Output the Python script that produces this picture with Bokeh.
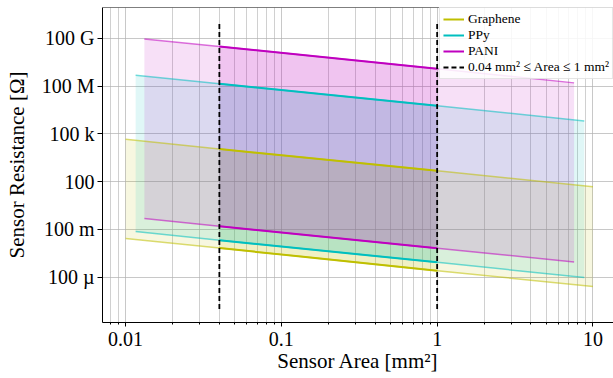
import math
from bokeh.plotting import figure
from bokeh.models import (FixedTicker, CustomJSTickFormatter, Span, Legend,
                          LegendItem, Range1d)
from bokeh.embed import file_html
from bokeh.resources import INLINE

# ---------------- data ----------------
materials = ["Graphene", "PPy", "PANI"]
colors = ["#bfbf00", "#00bfbf", "#bf00bf"]

graphene_area = [0.01, 0.04, 1.0, 10.0]
graphene_r_high = [4.5e4, 1.12e4, 4.8e2, 4.8e1]
graphene_r_low = [2.7e-2, 6.8e-3, 2.6e-4, 2.6e-5]

ppy_area = [0.0116, 0.04, 1.0, 8.8]
ppy_r_high = [4.8e8, 1.38e8, 5.75e6, 6.5e5]
ppy_r_low = [7.4e-2, 2.1e-2, 8.7e-4, 9.5e-5]

pani_area = [0.0132, 0.04, 1.0, 7.57]
pani_r_high = [9.1e10, 3.0e10, 1.2e9, 1.58e8]
pani_r_low = [4.8e-1, 1.58e-1, 6.6e-3, 9.1e-4]

range_area = [0.04, 1.0]
range_r_extent = [1e-6, 1e12]
range_label = "0.04 mm² ≤ Area ≤ 1 mm²"

x_ticks = [0.01, 0.1, 1, 10]
x_tick_labels = ["0.01", "0.1", "1", "10"]
y_ticks = [1e11, 1e8, 1e5, 1e2, 1e-1, 1e-4]
y_tick_labels = ["100 G", "100 M", "100 k", "100", "100 m", "100 µ"]

areas = [graphene_area, ppy_area, pani_area]
highs = [graphene_r_high, ppy_r_high, pani_r_high]
lows = [graphene_r_low, ppy_r_low, pani_r_low]

FONT = "Liberation Serif"

p = figure(width=613, height=378, x_axis_type="log", y_axis_type="log",
           x_range=Range1d(0.00711, 13.55), y_range=Range1d(1.445e-7, 8.5e12),
           output_backend="svg", toolbar_location=None,
           min_border_left=102, min_border_right=0, min_border_top=7,
           min_border_bottom=56)
p.outline_line_color = None
p.background_fill_color = "white"
p.border_fill_color = "white"

minor_x = [m * 10.0 ** e for e in range(-3, 1) for m in range(2, 10)]
p.xaxis.ticker = FixedTicker(ticks=x_ticks, minor_ticks=minor_x)
p.yaxis.ticker = FixedTicker(ticks=y_ticks)

fmt_code = ("for (let i = 0; i < tv.length; i++) {"
            " if (Math.abs(Math.log10(tv[i]) - Math.log10(tick)) < 1e-6) return tl[i]; }"
            " return '';")
p.xaxis.formatter = CustomJSTickFormatter(args=dict(tv=x_ticks, tl=x_tick_labels), code=fmt_code)
p.yaxis.formatter = CustomJSTickFormatter(args=dict(tv=y_ticks, tl=y_tick_labels), code=fmt_code)

for ax in (p.xaxis, p.yaxis):
    ax.axis_line_color = "black"
    ax.axis_line_width = 1
    ax.major_tick_line_color = "black"
    ax.minor_tick_line_color = "black"
    ax.major_label_text_font = FONT
    ax.major_label_text_font_size = "20px"
    ax.major_label_text_color = "black"
    ax.axis_label_text_font = FONT
    ax.axis_label_text_font_size = "21px"
    ax.axis_label_text_font_style = "normal"
    ax.axis_label_text_color = "black"
    ax.major_tick_in = 0

p.xaxis.major_tick_out = 4
p.xaxis.minor_tick_out = 2
p.xaxis.minor_tick_in = 0
p.xaxis.major_label_standoff = 5
p.xaxis.axis_label_standoff = 0
p.yaxis.major_tick_out = 5
p.yaxis.minor_tick_line_color = None
p.yaxis.major_label_standoff = 3
p.yaxis.axis_label_standoff = 10

p.xaxis.axis_label = "Sensor Area [mm²]"
p.yaxis.axis_label = "Sensor Resistance [Ω]"

p.xgrid.grid_line_color = "#b0b0b0"
p.xgrid.grid_line_alpha = 0.7
p.xgrid.minor_grid_line_color = "#b0b0b0"
p.xgrid.minor_grid_line_alpha = 0.6
p.ygrid.grid_line_color = "#b0b0b0"
p.ygrid.grid_line_alpha = 0.7

p.add_layout(Span(location=p.y_range.end, dimension="width",
                  line_color="black", line_width=1))

items = []
for name, c, a, hi, lo in zip(materials, colors, areas, highs, lows):
    p.varea(x=a, y1=lo, y2=hi, fill_color=c, fill_alpha=0.12)
    inner = [i for i, v in enumerate(a) if range_area[0] <= v <= range_area[1]]
    ai = [a[i] for i in inner]
    p.varea(x=ai, y1=[lo[i] for i in inner], y2=[hi[i] for i in inner],
            fill_color=c, fill_alpha=0.12)

for name, c, a, hi, lo in zip(materials, colors, areas, highs, lows):
    p.line(a, hi, line_color=c, line_alpha=0.55, line_width=1.5)
    p.line(a, lo, line_color=c, line_alpha=0.55, line_width=1.5)
    inner = [i for i, v in enumerate(a) if range_area[0] <= v <= range_area[1]]
    ai = [a[i] for i in inner]
    r = p.line(ai, [hi[i] for i in inner], line_color=c, line_width=2)
    p.line(ai, [lo[i] for i in inner], line_color=c, line_width=2)
    items.append(LegendItem(label=name, renderers=[r]))

dash_r = None
for xa in range_area:
    dash_r = p.line([xa, xa], range_r_extent, line_color="black",
                    line_dash="5 3", line_width=1.8)
items.append(LegendItem(label=range_label, renderers=[dash_r]))

legend = Legend(items=items, location="top_right")
legend.label_text_font = FONT
legend.label_text_font_size = "13.5px"
legend.label_text_color = "black"
legend.label_text_line_height = 1.0
legend.glyph_width = 21
legend.glyph_height = 12
legend.label_height = 12
legend.spacing = 0
legend.padding = 3
legend.margin = 0
legend.label_standoff = 4
legend.border_line_color = "#cccccc"
legend.background_fill_alpha = 0.85
p.add_layout(legend)

open("out.html", "w").write(file_html(p, INLINE))
